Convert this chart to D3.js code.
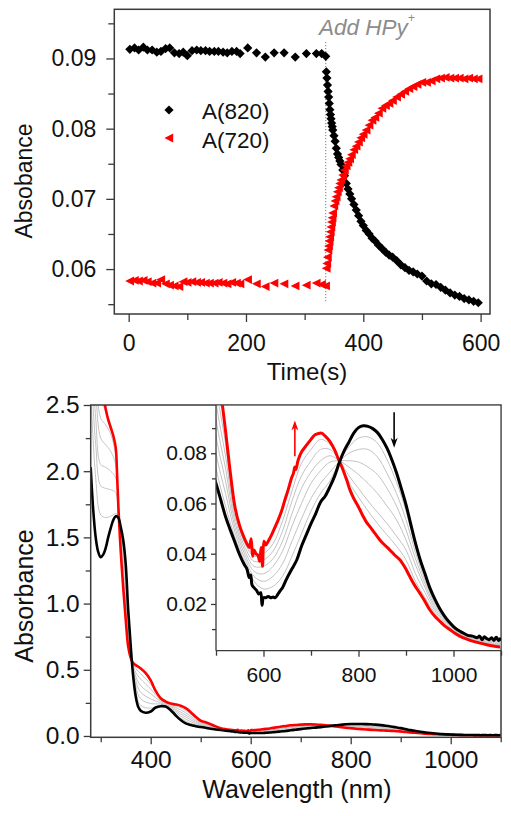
<!DOCTYPE html>
<html><head><meta charset="utf-8">
<script src="https://cdn.jsdelivr.net/npm/d3@7"></script>
<style>
html,body{margin:0;padding:0;background:#fff;}
svg{display:block;font-family:"Liberation Sans",Arial,sans-serif;}
</style></head>
<body><svg id="c" width="511" height="816"></svg>
<script>
// ---------- Kinetics (top panel) ----------
const timeS = [2,10,17,25,32,40,48,55,63,70,78,86,93,100,108,116,123,131,138,146,153,161,168,176,184,190,203,218,233,248,265,284,303,320,329,336,
 337,338,339,340,341,342,343,344,345,346,347,348,350,352,354,356,358,360,362,365,368,371,374,377,380,384,388,392,396,400,405,410,415,420,426,432,438,444,450,457,464,471,478,485,492,500,508,516,524,532,540,548,556,564,572,580,588,596];
const a820 = [0.0913,0.0915,0.0912,0.0916,0.0912,0.0912,0.0909,0.0910,0.0914,0.0915,0.0908,0.0907,0.0909,0.0904,0.0911,0.0912,0.0911,0.0911,0.0910,0.0910,0.0910,0.0909,0.0908,0.0910,0.0910,0.0907,0.0915,0.0908,0.0902,0.0908,0.0908,0.0902,0.0907,0.0907,0.0907,0.0903,
 0.0881,0.0872,0.0862,0.0853,0.0845,0.0836,0.0827,0.0820,0.0814,0.0808,0.0803,0.0798,0.0790,0.0782,0.0772,0.0764,0.0759,0.0754,0.0749,0.0741,0.0733,0.0722,0.0714,0.0707,0.0700,0.0692,0.0684,0.0676,0.0668,0.0662,0.0655,0.0650,0.0644,0.0640,0.0634,0.0629,0.0624,0.0620,0.0617,0.0612,0.0606,0.0602,0.0598,0.0596,0.0593,0.0590,0.0583,0.0579,0.0578,0.0574,0.0570,0.0566,0.0563,0.0561,0.0558,0.0556,0.0554,0.0552];
const a720 = [0.0583,0.0584,0.0583,0.0584,0.0582,0.0580,0.0580,0.0585,0.0579,0.0577,0.0576,0.0575,0.0582,0.0581,0.0582,0.0581,0.0581,0.0580,0.0580,0.0580,0.0581,0.0580,0.0579,0.0581,0.0580,0.0579,0.0585,0.0579,0.0575,0.0580,0.0579,0.0576,0.0577,0.0580,0.0578,0.0576,
 0.0601,0.0608,0.0617,0.0627,0.0633,0.0640,0.0646,0.0653,0.0660,0.0667,0.0673,0.0680,0.0690,0.0697,0.0703,0.0710,0.0716,0.0722,0.0727,0.0734,0.0741,0.0747,0.0752,0.0757,0.0763,0.0770,0.0775,0.0781,0.0787,0.0792,0.0798,0.0805,0.0812,0.0816,0.0822,0.0829,0.0833,0.0836,0.0840,0.0845,0.0849,0.0853,0.0857,0.0860,0.0863,0.0866,0.0866,0.0868,0.0871,0.0872,0.0873,0.0872,0.0872,0.0872,0.0871,0.0872,0.0871,0.0871];
const addTime = 336;
const topXTicks = [0,200,400,600], topXMinor = [100,300,500];
const topYTicks = [0.06,0.07,0.08,0.09], topYMinor = [0.055,0.065,0.075,0.085,0.095];
const legendLabels = ["A(820)","A(720)"];

// ---------- Spectra (bottom panel) ----------
const blackNm = [280,285,290,295,300,305,310,315,320,325,330,335,340,345,350,355,360,365,370,375,380,390,400,410,420,430,440,450,460,470,480,490,500,510,520,530,540,550,560,565,570,573,576,580,585,590,594,597,600,605,610,615,620,625,630,635,640,645,650,660,670,680,690,700,710,720,730,740,750,760,770,780,790,800,810,820,830,840,850,860,870,880,890,900,910,920,930,940,950,960,970,980,990,1000,1010,1020,1030,1040,1050,1055,1060,1065,1070,1075,1080,1085,1090,1095,1100];
const blackA = [2.03,1.71,1.50,1.39,1.35,1.37,1.42,1.50,1.57,1.63,1.66,1.65,1.58,1.48,1.30,0.95,0.68,0.45,0.30,0.22,0.19,0.175,0.185,0.215,0.225,0.222,0.195,0.155,0.120,0.095,0.082,0.074,0.068,0.0615,0.0548,0.0495,0.0445,0.0395,0.0355,0.034,0.0305,0.0315,0.0275,0.0265,0.0255,0.024,0.0245,0.0195,0.0225,0.0225,0.023,0.0225,0.0228,0.0225,0.0238,0.0252,0.0265,0.0285,0.0305,0.034,0.0375,0.043,0.0475,0.052,0.056,0.0605,0.063,0.0667,0.071,0.0765,0.081,0.0845,0.088,0.0902,0.0909,0.0907,0.0898,0.0882,0.0855,0.082,0.0775,0.0722,0.066,0.0595,0.0518,0.0442,0.0375,0.032,0.0265,0.0222,0.0185,0.0155,0.013,0.011,0.0095,0.0085,0.0075,0.0072,0.0066,0.0072,0.0058,0.0070,0.0062,0.0058,0.0066,0.0055,0.0068,0.0055,0.0065];
const redNm = [280,290,300,305,310,315,320,325,330,333,336,340,345,350,355,360,365,370,380,390,400,410,420,430,440,450,460,470,480,490,500,510,520,530,540,550,560,565,570,574,577,580,584,588,592,595,598,601,605,610,617,624,631,638,645,652,659,663,666,668,673,680,691,700,708,715,722,730,740,750,757,765,775,782,790,796,803,810,817,824,835,845,855,866,876,887,898,908,918,929,940,950,961,972,982,993,1003,1014,1028,1042,1056,1070,1084,1098];
const redA = [3.3,3.0,2.75,2.6,2.47,2.39,2.33,2.27,2.18,1.95,1.68,1.40,1.12,0.88,0.675,0.59,0.55,0.535,0.51,0.475,0.42,0.34,0.285,0.26,0.245,0.238,0.228,0.21,0.18,0.145,0.115,0.104,0.089,0.0725,0.0585,0.051,0.046,0.044,0.0425,0.046,0.039,0.0415,0.040,0.0395,0.037,0.0425,0.035,0.045,0.0435,0.045,0.0475,0.0505,0.0535,0.057,0.0614,0.0655,0.0701,0.072,0.0745,0.0735,0.0773,0.0805,0.0833,0.0855,0.0873,0.0878,0.088,0.0868,0.0846,0.0812,0.078,0.0745,0.0694,0.0654,0.062,0.060,0.0575,0.0548,0.0525,0.0508,0.048,0.0455,0.0435,0.0415,0.0395,0.0376,0.0345,0.0309,0.0275,0.0243,0.021,0.0177,0.015,0.013,0.0112,0.0097,0.0083,0.0071,0.006,0.0051,0.0044,0.0038,0.0033,0.0029];
const grayNm = [280,290,300,310,320,330,335,340,350,360,370,380,400,420,440,460,480,500,520,540,560,580,600,620,640,660,680,700,720,740,760,780,800,820,840,860,880,900,920,940,960,980,1000,1040,1100];
const gray1 = [2.6,1.95,1.67,1.65,1.66,1.68,1.67,1.55,1.25,0.67,0.34,0.23,0.21,0.23,0.20,0.135,0.095,0.074,0.059,0.0465,0.037,0.029,0.026,0.027,0.031,0.039,0.048,0.057,0.064,0.069,0.0767,0.0825,0.086,0.0865,0.084,0.0775,0.0685,0.057,0.0425,0.031,0.0215,0.015,0.0106,0.007,0.0056];
const gray2 = [2.8,2.2,1.89,1.87,1.86,1.84,1.68,1.52,1.18,0.66,0.38,0.28,0.245,0.24,0.207,0.15,0.108,0.08,0.064,0.0485,0.0385,0.031,0.029,0.031,0.036,0.045,0.054,0.062,0.068,0.0725,0.0768,0.080,0.0815,0.0815,0.0785,0.072,0.064,0.0535,0.0405,0.0295,0.0205,0.0145,0.0102,0.0066,0.0051];
const gray3 = [3.0,2.4,2.05,2.03,2.0,1.95,1.69,1.49,1.10,0.65,0.42,0.33,0.28,0.25,0.215,0.165,0.122,0.087,0.069,0.0505,0.040,0.033,0.032,0.035,0.041,0.051,0.060,0.068,0.073,0.0765,0.077,0.077,0.0765,0.0745,0.0715,0.066,0.059,0.0495,0.038,0.028,0.0195,0.014,0.0098,0.0063,0.0046];
const gray4 = [3.1,2.6,2.25,2.2,2.15,2.05,1.70,1.46,1.03,0.63,0.45,0.38,0.32,0.26,0.222,0.18,0.136,0.094,0.074,0.0525,0.0415,0.035,0.035,0.038,0.045,0.056,0.066,0.0725,0.077,0.079,0.077,0.0745,0.0715,0.068,0.064,0.059,0.0535,0.0455,0.0355,0.0265,0.0185,0.0133,0.0094,0.006,0.0041];
const gray5 = [3.2,2.75,2.4,2.35,2.28,2.12,1.71,1.44,0.97,0.62,0.48,0.43,0.355,0.27,0.23,0.197,0.15,0.101,0.079,0.0545,0.043,0.037,0.0375,0.041,0.049,0.061,0.071,0.077,0.0815,0.0815,0.0771,0.071,0.066,0.061,0.0565,0.052,0.047,0.0415,0.032,0.0245,0.0175,0.0127,0.009,0.0057,0.0037];
const gray6 = [3.3,2.9,2.55,2.45,2.35,2.16,1.71,1.42,0.93,0.61,0.51,0.47,0.39,0.28,0.238,0.213,0.165,0.108,0.084,0.0565,0.0445,0.039,0.040,0.044,0.053,0.065,0.076,0.0815,0.0855,0.0835,0.0772,0.0685,0.0625,0.057,0.052,0.0475,0.043,0.0375,0.029,0.0225,0.0165,0.012,0.0087,0.0054,0.0033];
const mainXTicks = [400,600,800,1000], mainXMinor = [300,500,700,900,1100];
const mainYTicks = [0.0,0.5,1.0,1.5,2.0,2.5], mainYMinor = [0.25,0.75,1.25,1.75,2.25];
const insetXTicks = [600,800,1000], insetXMinor = [500,700,900,1100];
const insetYTicks = [0.02,0.04,0.06,0.08], insetYMinor = [0.01,0.03,0.05,0.07,0.09];
// arrows in inset: [nm, fromA, toA]
const redArrow = [666, 0.0788, 0.0930];
const blackArrow = [875, 0.0963, 0.0822];

const svg = d3.select("#c");
const AX = "#3a3a3a";
const FONT = "'Liberation Sans', Arial, sans-serif";

function styleAxis(g, fs){
  g.selectAll("path.domain").remove();
  g.selectAll("line").attr("stroke", AX).attr("stroke-width", 1.3);
  g.selectAll("text").attr("font-size", fs).attr("fill", "#111").attr("font-family", FONT);
}

// ===== TOP PANEL =====
const T = {l:114.3, r:490, t:9.3, b:314};
const tx = d3.scaleLinear().domain([-24.5, 616]).range([T.l, T.r]);
const ty = d3.scaleLinear().domain([0.0536, 0.0970]).range([T.b, T.t]);
const topG = svg.append("g");

topG.append("g").attr("transform", `translate(0,${T.b})`)
  .call(d3.axisBottom(tx).tickValues(topXTicks).tickSize(8).tickPadding(13).tickFormat(d3.format("d")))
  .call(g=>styleAxis(g, 23));
topG.append("g").attr("transform", `translate(0,${T.b})`)
  .call(d3.axisBottom(tx).tickValues(topXMinor).tickSize(6).tickFormat(""))
  .call(g=>styleAxis(g, 23));
topG.append("g").attr("transform", `translate(${T.l},0)`)
  .call(d3.axisLeft(ty).tickValues(topYTicks).tickSize(8).tickPadding(10).tickFormat(d3.format(".2f")))
  .call(g=>styleAxis(g, 23));
topG.append("g").attr("transform", `translate(${T.l},0)`)
  .call(d3.axisLeft(ty).tickValues(topYMinor).tickSize(6).tickFormat(""))
  .call(g=>styleAxis(g, 23));
topG.append("rect").attr("x", T.l).attr("y", T.t).attr("width", T.r-T.l).attr("height", T.b-T.t)
  .attr("fill","none").attr("stroke", AX).attr("stroke-width", 1.5);

// dotted addition line
topG.append("line").attr("x1", tx(addTime)).attr("x2", tx(addTime))
  .attr("y1", 42).attr("y2", 303).attr("stroke", "#777").attr("stroke-width", 1).attr("stroke-dasharray", "1.2,1.8");

const diamond = "M0,-4.6L4.6,0L0,4.6L-4.6,0Z";
const triLeft = "M-4.6,0L4.2,-4.4L4.2,4.4Z";
const pts = timeS.map((t,i)=>({t, b:a820[i], r:a720[i]}));
topG.append("g").selectAll("path").data(pts).join("path")
  .attr("d", diamond).attr("fill", "#000")
  .attr("transform", d=>`translate(${tx(d.t)},${ty(d.b)})`);
topG.append("g").selectAll("path").data(pts).join("path")
  .attr("d", triLeft).attr("fill", "#f00")
  .attr("transform", d=>`translate(${tx(d.t)},${ty(d.r)})`);

// legend
const lg = topG.append("g");
lg.append("path").attr("d", diamond).attr("fill","#000").attr("transform","translate(169,110)");
lg.append("path").attr("d", triLeft).attr("fill","#f00").attr("transform","translate(169,138)");
lg.append("text").attr("x", 202).attr("y", 118.5).attr("font-size", 22.5).attr("font-family", FONT).attr("fill","#111").text(legendLabels[0]);
lg.append("text").attr("x", 202).attr("y", 148).attr("font-size", 22.5).attr("font-family", FONT).attr("fill","#111").text(legendLabels[1]);

// annotation
const ann = topG.append("text").attr("x", 319).attr("y", 35).attr("font-size", 22.5).attr("font-style","italic")
  .attr("font-family", FONT).attr("fill", "#8c8c8c");
ann.append("tspan").text("Add HPy");
ann.append("tspan").attr("dy", -13).attr("font-size", 12).text("+");

// axis titles
topG.append("text").attr("x", 307).attr("y", 380).attr("text-anchor","middle").attr("font-size", 24)
  .attr("font-family", FONT).attr("fill","#111").text("Time(s)");
topG.append("text").attr("transform","translate(31.5,181) rotate(-90)").attr("text-anchor","middle").attr("font-size", 23)
  .attr("font-family", FONT).attr("fill","#111").text("Absobance");

// ===== BOTTOM PANEL =====
const B = {l:90.7, r:501, t:405, b:737.3};
const bx = d3.scaleLinear().domain([280, 1100.6]).range([B.l, B.r]);
const by = d3.scaleLinear().domain([-0.01, 2.5]).range([B.b, B.t]);
const bot = svg.append("g");

const defs = svg.append("defs");
defs.append("clipPath").attr("id","clipMain").append("rect").attr("x",B.l).attr("y",B.t).attr("width",B.r-B.l).attr("height",B.b-B.t);

bot.append("g").attr("transform", `translate(0,${B.b})`)
  .call(d3.axisBottom(bx).tickValues(mainXTicks).tickSize(7).tickPadding(6).tickFormat(d3.format("d")))
  .call(g=>styleAxis(g, 24.5));
bot.append("g").attr("transform", `translate(0,${B.b})`)
  .call(d3.axisBottom(bx).tickValues(mainXMinor).tickSize(5).tickFormat(""))
  .call(g=>styleAxis(g, 24.5));
bot.append("g").attr("transform", `translate(${B.l},0)`)
  .call(d3.axisLeft(by).tickValues(mainYTicks).tickSize(7).tickPadding(4).tickFormat(d3.format(".1f")))
  .call(g=>styleAxis(g, 24.5));
bot.append("g").attr("transform", `translate(${B.l},0)`)
  .call(d3.axisLeft(by).tickValues(mainYMinor).tickSize(5).tickFormat(""))
  .call(g=>styleAxis(g, 24.5));

const grays = [gray1,gray2,gray3,gray4,gray5,gray6];
const curve = d3.curveCatmullRom.alpha(0.5);
const mainLine = d3.line().x(d=>bx(d[0])).y(d=>by(d[1])).curve(curve);
const mg = bot.append("g").attr("clip-path","url(#clipMain)");
grays.forEach(g=>{
  mg.append("path").attr("d", mainLine(grayNm.map((n,i)=>[n,g[i]]))).attr("fill","none").attr("stroke","#c4c4c4").attr("stroke-width",1);
});
mg.append("path").attr("d", mainLine(redNm.map((n,i)=>[n,redA[i]]))).attr("fill","none").attr("stroke","#f00").attr("stroke-width",2.6);
mg.append("path").attr("d", mainLine(blackNm.map((n,i)=>[n,blackA[i]]))).attr("fill","none").attr("stroke","#000").attr("stroke-width",2.6);

// frame
bot.append("rect").attr("x", B.l).attr("y", B.t).attr("width", B.r-B.l).attr("height", B.b-B.t)
  .attr("fill","none").attr("stroke", AX).attr("stroke-width", 1.5);

// ----- inset -----
const I = {l:216, r:501, t:405, b:650.7};
const ix = d3.scaleLinear().domain([500, 1100]).range([I.l, I.r]);
const iy = d3.scaleLinear().domain([0.0014, 0.0992]).range([I.b, I.t]);
defs.append("clipPath").attr("id","clipIn").append("rect").attr("x",I.l).attr("y",I.t).attr("width",I.r-I.l).attr("height",I.b-I.t);
const ins = svg.append("g");
ins.append("rect").attr("x", I.l).attr("y", I.t+0.8).attr("width", I.r-I.l-0.8).attr("height", I.b-I.t).attr("fill","#fff");
const inLine = d3.line().x(d=>ix(d[0])).y(d=>iy(d[1])).curve(curve);
const ig = ins.append("g").attr("clip-path","url(#clipIn)");
grays.forEach(g=>{
  ig.append("path").attr("d", inLine(grayNm.map((n,i)=>[n,g[i]]))).attr("fill","none").attr("stroke","#c2c2c2").attr("stroke-width",1);
});
ig.append("path").attr("d", inLine(redNm.map((n,i)=>[n,redA[i]]))).attr("fill","none").attr("stroke","#f00").attr("stroke-width",3);
ig.append("path").attr("d", inLine(blackNm.map((n,i)=>[n,blackA[i]]))).attr("fill","none").attr("stroke","#000").attr("stroke-width",3);

ins.append("g").attr("transform", `translate(0,${I.b})`)
  .call(d3.axisBottom(ix).tickValues(insetXTicks).tickSize(6).tickPadding(10).tickFormat(d3.format("d")))
  .call(g=>styleAxis(g, 21));
ins.append("g").attr("transform", `translate(0,${I.b})`)
  .call(d3.axisBottom(ix).tickValues(insetXMinor).tickSize(5).tickFormat(""))
  .call(g=>styleAxis(g, 21));
ins.append("g").attr("transform", `translate(${I.l},0)`)
  .call(d3.axisLeft(iy).tickValues(insetYTicks).tickSize(5).tickPadding(4).tickFormat(d3.format(".2f")))
  .call(g=>styleAxis(g, 21));
ins.append("g").attr("transform", `translate(${I.l},0)`)
  .call(d3.axisLeft(iy).tickValues(insetYMinor).tickSize(4).tickFormat(""))
  .call(g=>styleAxis(g, 21));
ins.append("line").attr("x1",I.l).attr("x2",I.l).attr("y1",I.t).attr("y2",I.b).attr("stroke",AX).attr("stroke-width",1.3);
ins.append("line").attr("x1",I.l).attr("x2",I.r).attr("y1",I.b).attr("y2",I.b).attr("stroke",AX).attr("stroke-width",1.3);

// arrows
function arrow(a, color){
  const x = ix(a[0]), y1 = iy(a[1]), y2 = iy(a[2]);
  const dir = y2 < y1 ? -1 : 1;
  ins.append("line").attr("x1",x).attr("x2",x).attr("y1",y1).attr("y2",y2 - dir*6).attr("stroke",color).attr("stroke-width",1.6);
  ins.append("path").attr("d", `M${x},${y2}L${x-3.5},${y2-dir*10}L${x},${y2-dir*7}L${x+3.5},${y2-dir*10}Z`).attr("fill",color);
}
arrow(redArrow, "#f00");
arrow(blackArrow, "#000");

// axis titles
bot.append("text").attr("x", 297).attr("y", 798).attr("text-anchor","middle").attr("font-size", 25)
  .attr("font-family", FONT).attr("fill","#111").text("Wavelength (nm)");
bot.append("text").attr("transform","translate(33,596) rotate(-90)").attr("text-anchor","middle").attr("font-size", 25)
  .attr("font-family", FONT).attr("fill","#111").text("Absorbance");
</script></body></html>
